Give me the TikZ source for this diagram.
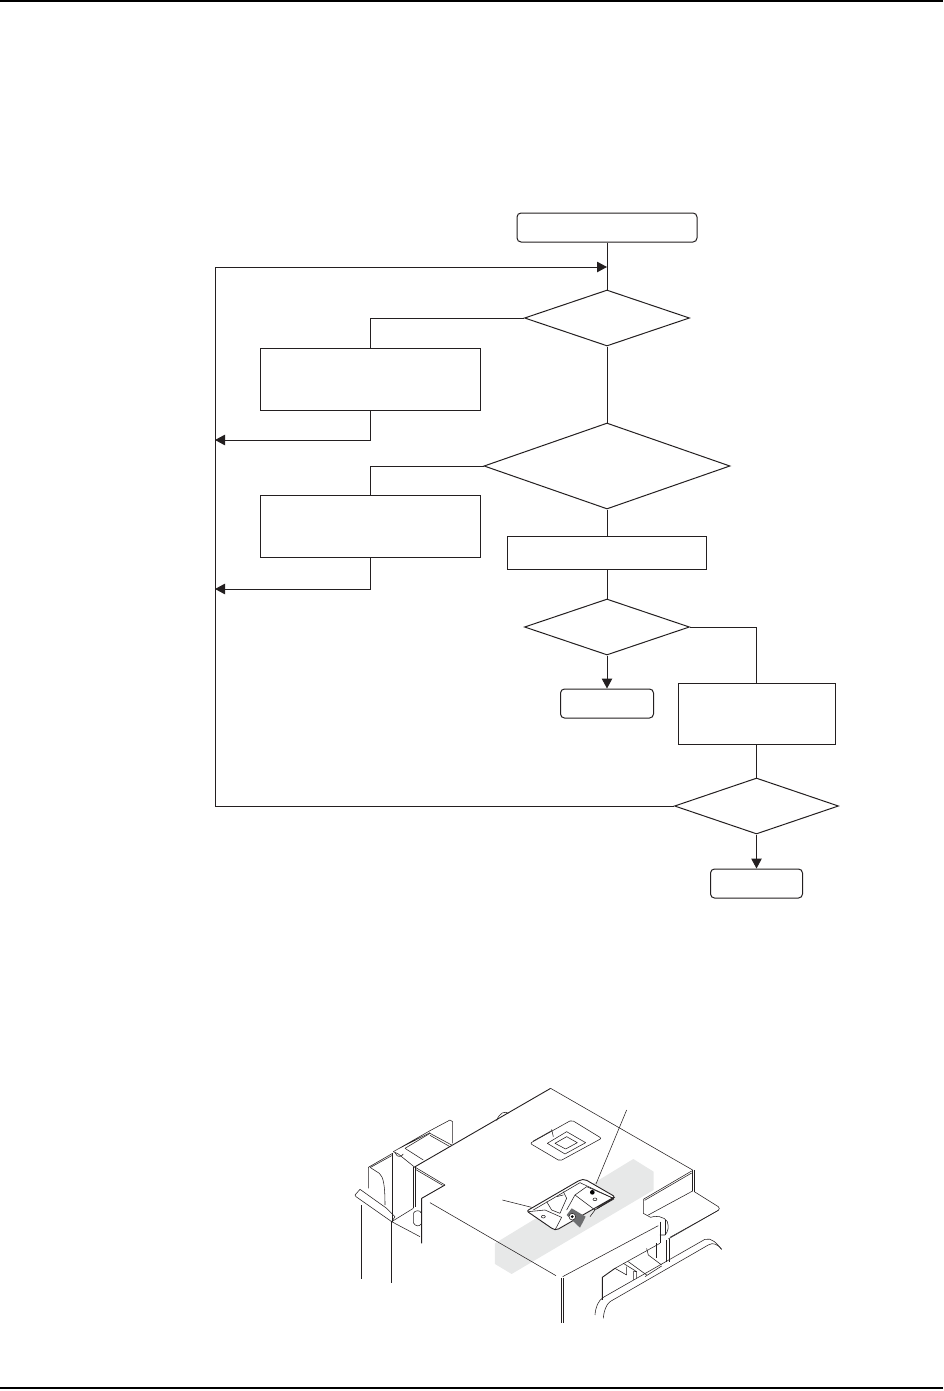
\documentclass[tikz,border=0pt]{standalone}
\usepackage{xcolor}
\usepackage{tikz}
\usetikzlibrary{arrows.meta,shapes.geometric}
\definecolor{linex}{HTML}{231F20}
\definecolor{bandx}{HTML}{E7E8E8}
\definecolor{tabx}{HTML}{6D6E70}
\tikzset{
  ar/.style={-{Triangle[length=10pt,width=10.5pt]},linex,line width=1pt},
  cn/.style={linex,line width=1pt},
  procbox/.style={draw=linex,line width=1pt,inner sep=0pt,fill=white},
  endbox/.style={procbox,rounded corners=4pt},
  dec/.style={draw=linex,line width=1pt,diamond,inner sep=0pt,fill=white},
  pt/.style={linex,line width=0.55pt,line join=round},
  ptb/.style={linex,line width=0.9pt,line join=round}
}
\begin{document}
\begin{tikzpicture}[x=1pt,y=-1pt]
\useasboundingbox (0,0) rectangle (943,1391);
\draw[black,line width=2pt] (0,1) -- (943,1);
\draw[black,line width=2pt] (0,1388) -- (943,1388);
\node[endbox,minimum width=180pt,minimum height=29pt] (start) at (607,227.5) {};
\node[dec,minimum width=165pt,minimum height=56pt] (dec1) at (607,318) {};
\node[procbox,minimum width=220pt,minimum height=62pt] (box1) at (370,379) {};
\node[dec,minimum width=246pt,minimum height=86pt] (dec2) at (607,466) {};
\node[procbox,minimum width=220pt,minimum height=62pt] (box2) at (370,526) {};
\node[procbox,minimum width=199pt,minimum height=33pt] (box3) at (607,552.5) {};
\node[dec,minimum width=165pt,minimum height=56pt] (dec3) at (607,627) {};
\node[endbox,minimum width=93pt,minimum height=29pt] (end1) at (607,703.5) {};
\node[procbox,minimum width=157pt,minimum height=61pt] (box4) at (756.5,713.5) {};
\node[dec,minimum width=164pt,minimum height=56pt] (dec4) at (756.5,806) {};
\node[endbox,minimum width=92pt,minimum height=29pt] (end2) at (756.5,883.5) {};
\coordinate (jointop) at (607,267);
\coordinate (looptop) at (215.5,267);
\coordinate (loopbot) at (215.5,806);
\coordinate (loop1) at (215,440);
\coordinate (loop2) at (215,589);
\draw[cn] (start) -- (dec1);
\draw[cn] (dec1) -- (dec2);
\draw[cn] (dec2) -- (box3);
\draw[cn] (box3) -- (dec3);
\draw[cn] (dec1.west) -| (box1.north);
\draw[cn] (dec2.west) -| (box2.north);
\draw[cn] (dec3.east) -| (box4.north);
\draw[cn] (box4) -- (dec4);
\draw[ar] (dec3) -- (end1);
\draw[ar] (dec4) -- (end2);
\draw[ar] (box1.south) |- (loop1);
\draw[ar] (box2.south) |- (loop2);
\draw[ar] (dec4.west) -- (loopbot) -- (looptop) -- (jointop);
\begin{scope}[shift={(340,1080)},x=0.3333pt,y=-0.3333pt]
\fill[bandx] (465,490) -- (880,237) -- (941,275) -- (941,330) -- (515,582) -- (465,552) -- cycle;
\draw[ptb] (222,262) -- (632,25);
\draw[pt] (632,25) -- (1058,270);
\draw[pt] (226,262) -- (315,315) (226,268) -- (308,316);
\draw[pt] (470,122) .. controls (478,98) and (495,92) .. (505,100);
\draw[ptb] (315,315) -- (245,355) -- (245,490);
\draw[pt] (270,368) -- (648,587);
\draw[pt] (668,590) -- (955,437);
\draw[ptb] (663,595) -- (663,730);
\draw[ptb] (670,595) -- (670,730);
\draw[ptb] (1058,270) -- (1058,332);
\draw[ptb] (1063,270) -- (1063,335);
\draw[pt] (1055,273) -- (910,358) (1055,279) -- (914,361);
\draw[pt] (910,358) -- (910,400) -- (932,412);
\draw[pt] (925,405) -- (1058,333);
\draw[pt] (1063,335) -- (1135,380) -- (1138,386) -- (1135,391) -- (990,472);
\draw[pt] (1135,391) -- (985,477);
\draw[pt] (932,412) .. controls (945,405) and (975,410) .. (982,425) .. controls (987,440) and (985,455) .. (975,465) -- (960,465);
\draw[pt] (960,425) -- (960,490);
\draw[pt] (975,420) -- (975,465);
\draw[pt] (765,705) .. controls (767,680) and (775,662) .. (790,652) -- (1095,478) .. controls (1115,472) and (1130,490) .. (1145,508);
\draw[pt] (790,715) .. controls (792,692) and (798,675) .. (810,665) -- (1105,495) .. controls (1120,485) and (1135,495) .. (1145,508);
\draw[ptb] (787,660) -- (787,592) -- (825,565);
\draw[pt] (825,565) -- (960,490);
\draw[pt] (825,565) -- (860,585) -- (860,560) (850,550) -- (890,575) -- (880,575) -- (880,600) (890,575) -- (890,595) (865,545) -- (920,585);
\draw[pt] (915,590) -- (965,558);
\draw[pt] (920,505) -- (925,525) -- (965,555);
\draw[ptb] (948,490) -- (948,535) (978,480) -- (978,545) (988,478) -- (988,545);
\draw[pt] (65,375) -- (65,598);
\draw[ptb] (155,425) -- (155,610);
\draw[pt,fill=white] (45,345) -- (60,328) -- (140,385) -- (165,410) -- (155,425) -- (48,350) -- cycle;
\draw[pt] (85,325) -- (85,262) -- (158,220) (92,262) -- (155,227);
\draw[ptb] (158,220) -- (158,425);
\draw[pt] (90,262) -- (118,280) .. controls (130,290) and (135,315) .. (135,375);
\draw[ptb] (220,260) -- (220,385);
\draw[pt] (226,262) -- (226,382);
\draw[pt] (155,425) -- (220,385);
\draw[pt] (155,425) -- (240,470);
\draw[pt] (220,400) .. controls (225,390) and (240,390) .. (243,398);
\draw[pt] (220,400) -- (220,428) .. controls (225,440) and (240,440) .. (243,432);
\draw[pt] (160,215) -- (270,152) -- (330,120) -- (338,125) -- (338,190) (172,208) -- (270,158);
\draw[pt] (195,205) -- (270,160) -- (335,195) (270,166) -- (330,200);
\draw[pt] (195,205) -- (250,240);
\draw[pt] (160,215) -- (175,222) -- (222,260);
\draw[pt] (165,218) .. controls (172,235) and (185,230) .. (190,222);
\draw[pt,rounded corners=2pt] (570,190) -- (695,120) -- (785,175) -- (660,243) -- cycle;
\draw[pt] (622,190) -- (680,155) -- (737,188) -- (675,222) -- cycle;
\draw[pt] (645,190) -- (680,170) -- (712,188) -- (677,207) -- cycle;
\draw[pt] (580,183) -- (635,152) (635,148) -- (640,170);
\fill[white] (560,393) -- (720,300) -- (735,298) -- (825,350) -- (650,450) -- (640,448) -- cycle;
\draw[ptb,rounded corners=2pt] (560,393) -- (720,300) -- (735,298) -- (825,350) -- (650,450) -- (640,448) -- cycle;
\draw[pt] (580,390) -- (720,308) -- (820,355);
\draw[pt] (705,345) -- (740,320) -- (820,355) -- (765,390) -- (705,345);
\draw[pt] (705,345) -- (680,390);
\draw[pt] (765,390) -- (750,410);
\draw[pt] (772,382) -- (825,352) (770,387) -- (822,357);
\draw[pt] (670,335) -- (680,355) -- (660,400) (620,365) -- (635,390) -- (660,400) (650,350) -- (670,345);
\draw[pt] (565,395) -- (615,390) -- (665,412) -- (645,450);
\fill[tabx] (680,405) -- (695,385) -- (737,410) -- (720,443) -- cycle;
\draw[pt,fill=white] (697,410) circle (10);
\fill[black] (697,410) circle (4.5);
\fill[black] (757,337) circle (7);
\draw[pt] (765,358) ellipse (6 and 4);
\draw[pt] (610,410) ellipse (6 and 4);
\draw[pt] (860,90) -- (768,312);
\draw[pt] (487,360) -- (575,382);
\end{scope}
\end{tikzpicture}
\end{document}
